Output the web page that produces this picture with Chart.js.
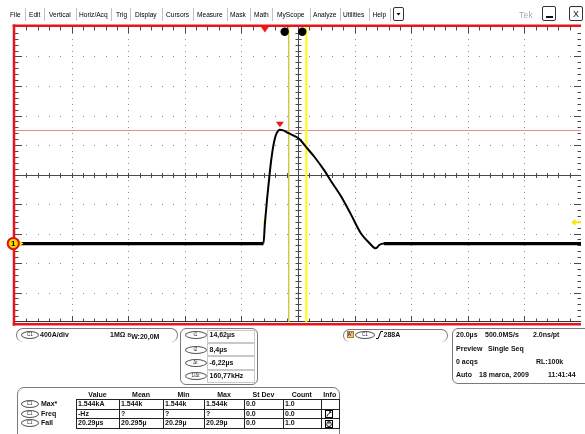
<!DOCTYPE html>
<html>
<head>
<meta charset="utf-8">
<script src="https://cdn.jsdelivr.net/npm/chart.js@4.4.0/dist/chart.umd.min.js"></script>
<style>
html,body{margin:0;padding:0;background:#fff;}
body{width:585px;height:434px;position:relative;overflow:hidden;font-family:"Liberation Sans",Arial,sans-serif;}
#plot{position:absolute;left:0;top:0;}
.t{position:absolute;white-space:nowrap;font-size:7px;line-height:8px;color:#111;}
.b{font-weight:bold;}
.menu{color:#000;font-size:6.6px;}
.sep{position:absolute;top:8px;width:1px;height:13px;background:#c2c2c2;}
.box{position:absolute;box-sizing:border-box;border:1px solid #7a7a7a;}
.pill{position:absolute;box-sizing:border-box;border:1px solid #555;border-radius:50%;font-size:4.5px;line-height:6px;text-align:center;color:#222;background:#fff;}
.cell{position:absolute;box-sizing:border-box;border:1px solid #222;}
.lcell{position:absolute;box-sizing:border-box;border:1px solid #c9c9c9;}
</style>
</head>
<body>
<canvas id="plot" width="585" height="330"></canvas>
<div id="ui"></div>
<script>
// ---- acquisition: time in µs relative to the trigger, current in A ----
const timeUs   = [-88.3, -60, -30, -0.5, 0.0, 1.8, 2.7, 3.5, 4.2, 5.3, 6.5, 7.5, 8.2, 10.5, 12.3, 14.1, 17.6, 21.1, 23.4, 26.9, 30.4, 33.9, 36.9, 39.2, 40.4, 42.1, 70, 111.7];
const currentA = [0, 0, 0, 0, 270, 990, 1260, 1420, 1500, 1544, 1535, 1515, 1500, 1458, 1415, 1330, 1170, 985, 845, 640, 395, 140, 8, -65, -20, 0, 0, 0];

// horizontal / vertical settings
const timeDiv = 20;      // µs per division
const ampDiv = 400;      // A per division
const divsX = 10, divsY = 10;
const timeMin = -88.3;   // left edge of the record, µs
const ampMin = -1064;    // bottom edge of the screen, A

// markers
const cursorTimes = [14.62, 8.4];   // t1, t2
const triggerTime = 0;
const triggerLevel = 288;
const peakTime = 5.3;
const peakValue = 1544;

// readouts
const menuItems = ['File','Edit','Vertical','Horiz/Acq','Trig','Display','Cursors','Measure','Mask','Math','MyScope','Analyze','Utilities','Help'];
const cursorLabels = ['t1','t2','\u0394t','1/\u0394t'];
const cursorReadouts = ['14,62\u00b5s','8,4\u00b5s','-6,22\u00b5s','160,77kHz'];
const measColumns = ['Value','Mean','Min','Max','St Dev','Count','Info'];
const measNames = ['Max*','Freq','Fall'];
const measValues = [
  ['1.544kA','1.544k','1.544k','1.544k','0.0','1.0'],
  ['-Hz','?','?','?','0.0','0.0'],
  ['20.29\u00b5s','20.295\u00b5','20.29\u00b5','20.29\u00b5','0.0','1.0']
];
const measInfo = ['', 'warn', 'clock'];

// ---- graticule, cursors and screen markers ----
function seg(ctx, x1, y1, x2, y2) { ctx.beginPath(); ctx.moveTo(x1, y1); ctx.lineTo(x2, y2); ctx.stroke(); }

const graticule = {
  id: 'graticule',
  beforeDatasetsDraw(chart) {
    const { ctx, chartArea: a, scales: { x, y } } = chart;
    const X = v => x.getPixelForValue(v), Y = v => y.getPixelForValue(v);
    const minorT = timeDiv / 5, minorA = ampDiv / 5;
    ctx.save();
    // dotted division lines
    ctx.fillStyle = '#8e8e8e';
    for (let k = 1; k < divsX; k++) {
      if (k * 2 === divsX) continue;
      const px = Math.round(X(timeMin + k * timeDiv));
      for (let j = 1; j < divsY * 5; j++) ctx.fillRect(px, Math.round(Y(ampMin + j * minorA)), 1, 1);
    }
    for (let k = 1; k < divsY; k++) {
      if (k * 2 === divsY) continue;
      const py = Math.round(Y(ampMin + k * ampDiv));
      for (let j = 1; j < divsX * 5; j++) ctx.fillRect(Math.round(X(timeMin + j * minorT)), py, 1, 1);
    }
    // centre cross
    const cx = Math.round(X(timeMin + timeDiv * divsX / 2)) + 0.5;
    const cy = Math.round(Y(ampMin + ampDiv * divsY / 2)) + 0.5;
    ctx.strokeStyle = '#4a4a4a';
    ctx.lineWidth = 1;
    seg(ctx, a.left, cy, a.right, cy);
    seg(ctx, cx, a.top, cx, a.bottom);
    // ticks on the centre cross and on the edges
    for (let j = 1; j < divsX * 5; j++) {
      const px = Math.round(X(timeMin + j * minorT)) + 0.5;
      const len = j % 5 === 0 ? 6 : 3.5;
      seg(ctx, px, cy - 2.5, px, cy + 2.5);
      seg(ctx, px, a.top, px, a.top + len);
      seg(ctx, px, a.bottom, px, a.bottom - len);
    }
    for (let j = 1; j < divsY * 5; j++) {
      const py = Math.round(Y(ampMin + j * minorA)) + 0.5;
      const len = j % 5 === 0 ? 7 : 3.5;
      seg(ctx, cx - 3, py, cx + 3, py);
      seg(ctx, a.left, py, a.left + len, py);
      seg(ctx, a.right, py, a.right - len, py);
    }
    ctx.strokeStyle = '#333';
    seg(ctx, a.left, a.bottom - 0.5, a.right, a.bottom - 0.5);
    // maximum reference line
    const pk = Math.round(Y(peakValue)) + 0.5;
    ctx.strokeStyle = 'rgba(205,70,70,0.6)';
    seg(ctx, a.left, pk, a.right, pk);
    // cursors
    const c1 = X(cursorTimes[0]), c2 = X(cursorTimes[1]);
    ctx.strokeStyle = '#d2c836';
    ctx.lineWidth = 1.4;
    seg(ctx, c2, a.top, c2, a.bottom);
    ctx.strokeStyle = '#ffff00';
    ctx.lineWidth = 2;
    seg(ctx, c1, a.top, c1, a.bottom);
    ctx.restore();
  },
  afterDatasetsDraw(chart) {
    const { ctx, chartArea: a, scales: { x, y } } = chart;
    const X = v => x.getPixelForValue(v), Y = v => y.getPixelForValue(v);
    ctx.save();
    // cursor handles
    ctx.fillStyle = '#000';
    for (const t of cursorTimes) {
      ctx.beginPath(); ctx.arc(X(t) - 4, a.top + 4.8, 4.2, 0, Math.PI * 2); ctx.fill();
    }
    // maximum marker
    const mx = X(peakTime), my = Y(peakValue) - 2.5;
    ctx.fillStyle = '#f01818';
    ctx.beginPath(); ctx.moveTo(mx - 4, my - 5.5); ctx.lineTo(mx + 4, my - 5.5); ctx.lineTo(mx, my); ctx.closePath(); ctx.fill();
    // trigger position
    const tx = X(triggerTime);
    ctx.beginPath(); ctx.moveTo(tx - 3.8, a.top); ctx.lineTo(tx + 3.8, a.top); ctx.lineTo(tx, a.top + 5.5); ctx.closePath(); ctx.fill();
    // trigger level arrow
    const ty = Y(triggerLevel);
    ctx.fillStyle = '#f4e600';
    ctx.beginPath(); ctx.moveTo(a.right - 10, ty); ctx.lineTo(a.right - 5.5, ty - 3.2); ctx.lineTo(a.right - 5.5, ty + 3.2); ctx.closePath(); ctx.fill();
    ctx.fillRect(a.right - 6, ty - 1, 6, 2);
    // screen frame
    ctx.strokeStyle = '#e8141c';
    ctx.lineWidth = 2.5;
    seg(ctx, 12.7, a.top - 1.25, a.right, a.top - 1.25);
    seg(ctx, 12.7, a.bottom + 2.3, a.right, a.bottom + 2.3);
    seg(ctx, 14, a.top - 2.5, 14, a.bottom + 3.5);
    // channel 1 ground marker
    const gy = Y(0);
    ctx.fillStyle = '#f4e600';
    ctx.beginPath(); ctx.moveTo(23.5, gy); ctx.lineTo(18.5, gy - 3.2); ctx.lineTo(18.5, gy + 3.2); ctx.closePath(); ctx.fill();
    ctx.beginPath(); ctx.arc(13.3, gy, 5.6, 0, Math.PI * 2);
    ctx.fillStyle = '#ffd800'; ctx.fill();
    ctx.strokeStyle = '#e01010'; ctx.lineWidth = 2; ctx.stroke();
    ctx.fillStyle = '#000';
    ctx.font = 'bold 8px "Liberation Sans", Arial, sans-serif';
    ctx.textAlign = 'center'; ctx.textBaseline = 'middle';
    ctx.fillText('1', 13.3, gy + 0.5);
    ctx.restore();
  }
};

new Chart(document.getElementById('plot'), {
  type: 'line',
  data: {
    datasets: [
      {
        data: timeUs.map((t, i) => ({ x: t, y: currentA[i] })),
        borderColor: '#000',
        borderWidth: 2,
        pointRadius: 0,
        cubicInterpolationMode: 'monotone',
        segment: { borderWidth: c => (c.p0.parsed.y === 0 && c.p1.parsed.y === 0) ? 3.2 : 2 }
      },
      {
        type: 'scatter',
        data: [{ x: triggerTime, y: triggerLevel }],
        pointStyle: 'rect',
        pointRadius: 2,
        backgroundColor: '#ffee00',
        borderWidth: 0
      }
    ]
  },
  options: {
    responsive: false,
    devicePixelRatio: 1,
    animation: false,
    events: [],
    layout: { padding: { left: 15, right: 0, top: 27, bottom: 8 } },
    plugins: { legend: { display: false }, tooltip: { enabled: false } },
    scales: {
      x: { type: 'linear', min: timeMin, max: timeMin + timeDiv * divsX, display: false },
      y: { type: 'linear', min: ampMin, max: ampMin + ampDiv * divsY, display: false }
    }
  },
  plugins: [graticule]
});

// ---- menu bar and readout panels ----
const ui = document.getElementById('ui');
function el(cls, x, y, w, h, css) {
  const d = document.createElement('div');
  d.className = cls;
  d.style.left = x + 'px'; d.style.top = y + 'px';
  if (w != null) d.style.width = w + 'px';
  if (h != null) d.style.height = h + 'px';
  if (css) d.style.cssText += css;
  ui.appendChild(d);
  return d;
}
function txt(s, x, y, cls, css) {
  const d = el('t ' + (cls || ''), x, y - 4, null, null, css);
  d.textContent = s;
  return d;
}
function ctxt(s, cx, y, cls) {
  return txt(s, cx, y, cls, 'transform:translateX(-50%)');
}
function pill(s, x, y, w, h) {
  const d = el('pill', x, y, w, h);
  d.textContent = s;
  d.style.lineHeight = (h - 2) + 'px';
  return d;
}

// menu
const menuX = [10, 29, 49, 79, 116, 135, 166, 197, 230, 254, 277, 313, 343, 372.5];
const sepX = [25, 44, 76, 111, 130, 162, 193, 227, 250, 272, 309.5, 339.5, 368.5, 389.5];
menuItems.forEach((m, i) => txt(m, menuX[i], 15, 'menu'));
sepX.forEach(x => el('sep', x, 8, null, null));
el('box', 393, 7, 11, 14, 'border:1px solid #333;border-radius:2px;').innerHTML =
  '<svg width="9" height="12" style="position:absolute;left:0;top:0"><path d="M2.5 5 L6.5 5 L4.5 7.5 Z" fill="#000"/></svg>';
txt('Tek', 519, 15, '', 'font-size:8.5px;color:#a8a8a8;letter-spacing:0.3px;');
el('box', 542, 6, 14, 15, 'border:1px solid #333;border-radius:2px;').innerHTML =
  '<div style="position:absolute;left:3px;top:9px;width:7px;height:1.5px;background:#111"></div>';
const xb = el('box', 569, 6, 14, 15, 'border:1px solid #333;border-radius:2px;');
xb.innerHTML = '<div class="t" style="left:3px;top:2.5px;font-size:9px;line-height:9px;color:#111">X</div>';

// vertical settings panel
el('box', 16, 328, 162, 14, 'border-radius:7px;border-bottom:none;');
pill('C1', 21, 331, 18, 8);
txt('400A/div', 40, 335, 'b');
txt('1M\u03a9', 110, 335, 'b');
txt('', 127.5, 335, 'b').innerHTML = '<span style="font-size:5px;vertical-align:2px">B</span>W:20,0M';

// cursor panel
el('box', 180, 328, 78, 57, 'border-radius:6px;');
const rowY = [335, 349.5, 363, 376];
const rowTop = [329.5, 342.5, 356, 369.5];
cursorLabels.forEach((lab, i) => {
  el('lcell', 207, rowTop[i], 48, 13.5);
  pill(lab, 184.5, rowY[i] - 4, 22, 8);
  txt(cursorReadouts[i], 209.5, rowY[i], 'b');
});

// trigger panel
el('box', 343, 329, 105, 13, 'border-radius:7px;border-bottom:none;');
const ab = el('t b', 346.5, 331, 7, 7, 'background:#f3c27e;border:1px solid #b07a30;box-sizing:border-box;font-size:5px;line-height:5px;text-align:center;color:#333;');
ab.textContent = "A'";
pill('C1', 355, 331, 20, 8);
el('t', 376, 331, 7, 8).innerHTML = '<svg width="7" height="8"><path d="M0 7.5 L2.2 7.5 L4.8 0.5 L7 0.5" stroke="#000" stroke-width="1" fill="none"/></svg>';
txt('288A', 383.5, 335, 'b');

// horizontal / acquisition panel
el('box', 452, 328, 140, 56, 'border-radius:6px;');
txt('20.0\u00b5s', 456, 335, 'b');
txt('500.0MS/s', 485, 335, 'b');
txt('2.0ns/pt', 533, 335, 'b');
txt('Preview', 456, 348.5, 'b');
txt('Single Seq', 488, 348.5, 'b');
txt('0 acqs', 456, 361.5, 'b');
txt('RL:100k', 536, 361.5, 'b');
txt('Auto', 456, 374.5, 'b');
txt('18 marca, 2009', 479, 374.5, 'b');
txt('11:41:44', 548, 374.5, 'b');

// measurement table
el('box', 17, 387, 323, 60, 'border-radius:7px;');
const colX = [76, 119, 163, 204, 244, 283, 320.5, 339];
measColumns.forEach((c, i) => ctxt(c, (colX[i] + colX[i + 1]) / 2, 395, 'b'));
const mRowTop = [399, 408.7, 418.4];
const mRowH = 9.7;
measNames.forEach((name, r) => {
  const cy = mRowTop[r] + mRowH / 2;
  pill('C1', 20.7, cy - 4, 18, 8);
  txt(name, 41, cy, 'b');
  for (let c = 0; c < measColumns.length; c++) {
    el('cell', colX[c], mRowTop[r], colX[c + 1] - colX[c] + 1, mRowH + 1);
    if (c < measValues[r].length) txt(measValues[r][c], colX[c] + 2, cy, 'b');
  }
  if (measInfo[r] === 'warn') {
    el('t', 325, mRowTop[r] + 1.3, 8, 8).innerHTML =
      '<svg width="8" height="8"><rect x="0.5" y="0.5" width="7" height="7" fill="#fff" stroke="#000"/><path d="M2 6.5 C2 3, 5 5, 5.5 1.5 M5.5 1.5 L4 2.2 M5.5 1.5 L6 3" stroke="#000" fill="none" stroke-width="0.9"/></svg>';
  } else if (measInfo[r] === 'clock') {
    el('t', 325, mRowTop[r] + 1.3, 8, 8).innerHTML =
      '<svg width="8" height="8"><rect x="0.5" y="0.5" width="7" height="7" fill="#fff" stroke="#000"/><circle cx="4" cy="4.3" r="2.3" fill="none" stroke="#000" stroke-width="0.9"/><path d="M4 4.3 L4 2.8 M2.5 1.2 L5.5 1.2" stroke="#000" stroke-width="0.8"/></svg>';
  }
});
</script>
</body>
</html>
